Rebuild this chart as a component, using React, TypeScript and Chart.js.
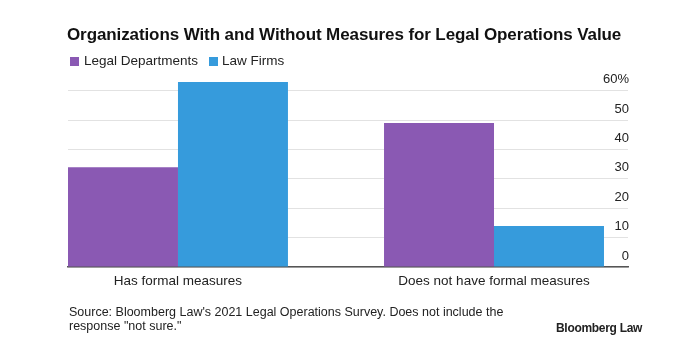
import React, { useEffect, useRef } from 'react';
import { Chart, registerables } from 'chart.js';

Chart.register(...registerables);

const categories = ['Has formal measures', 'Does not have formal measures'];
const seriesNames = ['Legal Departments', 'Law Firms'];
const legalDepartments = [34, 49];
const lawFirms = [63, 14];
const yTickValues = [0, 10, 20, 30, 40, 50, 60];
const seriesColors = ['#8a59b3', '#369bdc'];

const FONT = '"Liberation Sans", Arial, Helvetica, sans-serif';

export default function App() {
  const ref = useRef<HTMLCanvasElement>(null);

  useEffect(() => {
    document.body.style.margin = '0';
    const series = [legalDepartments, lawFirms];
    const chart = new Chart(ref.current as HTMLCanvasElement, {
      type: 'bar',
      data: {
        datasets: series.map((vals, s) => ({
          label: seriesNames[s],
          data: categories.map((_, i) => ({ x: i, y: vals[i] })),
          backgroundColor: seriesColors[s],
          borderWidth: 0,
          categoryPercentage: 0.696,
          barPercentage: 1,
        })),
      },
      options: {
        animation: false,
        responsive: false,
        maintainAspectRatio: false,
        layout: { padding: { left: 68, right: 52, top: 79, bottom: 61 } },
        plugins: { legend: { display: false }, tooltip: { enabled: false }, title: { display: false } },
        scales: {
          x: {
            type: 'linear',
            offset: false,
            min: -0.348,
            max: 1.424,
            afterBuildTicks: (s: any) => {
              s.ticks = categories.map((_, i) => ({ value: i }));
            },
            afterFit: (s: any) => {
              s.height = 30;
            },
            grid: { display: false, drawTicks: false, offset: false },
            border: { display: true, color: '#555555', width: 1.5 },
            ticks: {
              autoSkip: false,
              maxRotation: 0,
              padding: 6,
              color: '#222222',
              font: { family: FONT, size: 13.5 },
              callback: (v: any) => categories[v as number],
            },
          },
          y: {
            position: 'right',
            min: 0,
            max: 64,
            afterBuildTicks: (s: any) => {
              s.ticks = yTickValues.map((v) => ({ value: v }));
            },
            afterFit: (s: any) => {
              s.width = 0;
            },
            grid: { color: '#e2e2e2', lineWidth: 1, drawTicks: false },
            border: { display: false },
            ticks: {
              mirror: true,
              padding: 1,
              labelOffset: -11,
              color: '#222222',
              font: { family: FONT, size: 13 },
              callback: (v: any) => (v === 60 ? '60%' : String(v)),
            },
          },
        },
      },
    } as any);
    return () => chart.destroy();
  }, []);

  const sq = (left: number, color: string): React.CSSProperties => ({
    position: 'absolute', left, top: 57, width: 9, height: 9, background: color,
  });

  return (
    <div style={{ position: 'relative', width: 680, height: 358, background: '#ffffff', fontFamily: FONT, color: '#111' }}>
      <canvas ref={ref} width={680} height={358} style={{ position: 'absolute', left: 0, top: 0, width: 680, height: 358 }} />
      <div style={{ position: 'absolute', left: 67, top: 25, fontSize: 17, fontWeight: 700, lineHeight: '20px', whiteSpace: 'nowrap', letterSpacing: -0.1 }}>
        Organizations With and Without Measures for Legal Operations Value
      </div>
      <div style={sq(70, seriesColors[0])} />
      <div style={{ position: 'absolute', left: 84, top: 53, fontSize: 13.5, lineHeight: '16px', color: '#222', whiteSpace: 'nowrap' }}>{seriesNames[0]}</div>
      <div style={sq(209, seriesColors[1])} />
      <div style={{ position: 'absolute', left: 222, top: 53, fontSize: 13.5, lineHeight: '16px', color: '#222', whiteSpace: 'nowrap' }}>{seriesNames[1]}</div>
      <div style={{ position: 'absolute', left: 69, top: 306, fontSize: 12.5, lineHeight: '13.5px', color: '#222', width: 470 }}>
        Source: Bloomberg Law's 2021 Legal Operations Survey. Does not include the
        <br />
        response "not sure."
      </div>
      <div style={{ position: 'absolute', left: 556, top: 321, fontSize: 12, fontWeight: 700, lineHeight: '14px', color: '#222', whiteSpace: 'nowrap', letterSpacing: -0.3 }}>
        Bloomberg Law
      </div>
    </div>
  );
}
